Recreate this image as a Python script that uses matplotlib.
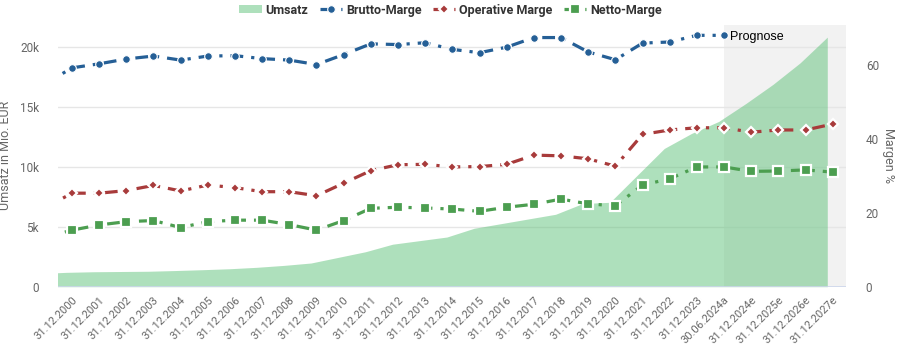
#!/usr/bin/env python
# Umsatz (area, left axis) with three margin lines (right axis)

import matplotlib as mpl
mpl.use('Agg')
import matplotlib.pyplot as plt
import matplotlib.transforms as mtransforms
import numpy as np

# first entry (31.12.1999) lies left of the visible range, only the line lead-in shows
categories = ['31.12.1999'] + ['31.12.%d' % y for y in range(2000, 2024)] + \
    ['30.06.2024a', '31.12.2024e', '31.12.2025e', '31.12.2026e', '31.12.2027e']

umsatz = [1100, 1200, 1250, 1270, 1290, 1350, 1420, 1500, 1620, 1780, 1980,
          2450, 2920, 3550, 3850, 4150, 4880, 5270, 5660, 6050, 6950,
          7050, 9300, 11550, 12800, 13800, 15300, 16900, 18700, 20850]

bruttoMarge = [54.8, 59.2, 60.3, 61.6, 62.4, 61.3, 62.4, 62.5, 61.7, 61.3, 60.1,
               62.8, 65.7, 65.5, 66.0, 64.2, 63.3, 64.8, 67.4, 67.4, 63.5,
               61.4, 65.9, 66.2, 68.0, 68.0, None, None, None, None]

operativeMarge = [21.3, 25.3, 25.3, 26.0, 27.4, 25.9, 27.5, 26.8, 25.7, 25.7, 24.6,
                  28.0, 31.4, 33.0, 33.1, 32.4, 32.5, 33.1, 35.6, 35.4, 34.6,
                  32.6, 41.2, 42.4, 43.0, 43.0, 41.8, 42.4, 42.4, 44.0]

nettoMarge = [13.3, 15.3, 16.7, 17.6, 17.9, 16.0, 17.6, 18.0, 18.0, 16.8, 15.3,
              17.9, 21.2, 21.5, 21.3, 21.0, 20.4, 21.5, 22.3, 23.7, 22.4,
              21.9, 27.5, 29.2, 32.4, 32.4, 31.2, 31.3, 31.6, 31.0]

prognoseStart = '30.06.2024a'

leftTicks = [0, 5000, 10000, 15000, 20000]
leftTickLabels = ['0', '5k', '10k', '15k', '20k']
rightTicks = [0, 20, 40, 60]

GRAY = '#666666'
plt.rcParams['font.family'] = ['Roboto', 'DejaVu Sans']


def toArray(values):
    return np.array([np.nan if v is None else v for v in values], dtype=float)


def plotChart(outputFile):
    fig = plt.figure(figsize=(9.01, 3.6), dpi=100)
    ax = fig.add_axes([0.0648, 0.2036, 0.8745, 0.727])
    x = np.arange(len(categories))
    xmin, xmax = 0.5, len(categories) - 0.5

    # forecast band + grid
    p0 = categories.index(prognoseStart)
    ax.axvspan(p0, xmax, color='#f2f2f2', zorder=0, lw=0)
    for t in leftTicks[1:]:
        ax.axhline(t, color='#e6e6e6', lw=1, zorder=1)
    ax.axhline(0, color='#ccd6eb', lw=1.2, zorder=3)

    # revenue area (drawn slightly left of the category centres, as in the source)
    ax.fill_between(x - 0.2, 0, umsatz, color='#5fc27a', alpha=0.5, lw=0, zorder=2)

    ax.set_xlim(xmin, xmax)
    ax.set_ylim(0, 21863)
    ax.set_yticks(leftTicks)
    ax.set_yticklabels(leftTickLabels)
    ax.set_xticks(x[1:])
    ax.set_xticklabels(categories[1:], rotation=45, ha='right', rotation_mode='anchor')
    ax.tick_params(axis='x', length=0, pad=6, labelsize=8, labelcolor=GRAY)
    ax.tick_params(axis='y', length=0, pad=14, labelsize=8.5, labelcolor=GRAY)
    ax.set_ylabel('Umsatz in Mio. EUR', color=GRAY, fontsize=9)
    ax.yaxis.set_label_coords(-0.059, 0.5)
    for s in ax.spines.values():
        s.set_visible(False)

    ax2 = ax.twinx()
    ax2.set_ylim(0, 70.8)
    ax2.set_yticks(rightTicks)
    ax2.tick_params(axis='y', length=0, pad=14, labelsize=8.5, labelcolor=GRAY)
    ax2.set_ylabel('Margen %', color=GRAY, fontsize=9, rotation=270, va='center')
    ax2.yaxis.set_label_coords(1.053, 0.5)
    for s in ax2.spines.values():
        s.set_visible(False)

    dash = (0, (4, 2.5, 1, 2.5))
    ax2.plot(x, toArray(bruttoMarge), color='#255f96', lw=2.3, ls=dash, marker='o', ms=5.5,
             mec='white', mew=0.8, label='Brutto-Marge', zorder=5)
    ax2.plot(x, toArray(operativeMarge), color='#a83b3b', lw=2.3, ls=dash, marker='D', ms=5.5,
             mec='white', mew=1.6, label='Operative Marge', zorder=5)
    ax2.plot(x, toArray(nettoMarge), color='#4c9e50', lw=2.3, ls=dash, marker='s', ms=6.5,
             mec='white', mew=1.6, label='Netto-Marge', zorder=5)
    ax2.set_xlim(xmin, xmax)

    trans = mtransforms.blended_transform_factory(ax2.transData, ax2.transAxes)
    ax2.annotate('Prognose', xy=(p0, 1), xycoords=trans, xytext=(4, -8.5),
                 textcoords='offset points', va='center', ha='left', fontsize=9,
                 color='black', family=['Liberation Sans', 'DejaVu Sans'])

    # legend
    handles = [plt.Rectangle((0, 0), 1, 1, color='#5fc27a', alpha=0.5, lw=0)]
    handles += ax2.get_lines()
    labels = ['Umsatz', 'Brutto-Marge', 'Operative Marge', 'Netto-Marge']
    leg = fig.legend(handles, labels, loc='center', bbox_to_anchor=(0.5, 0.972), ncol=4,
                     frameon=False, prop={'weight': 'bold', 'size': 9},
                     handlelength=1.8, handleheight=0.6, handletextpad=0.3,
                     columnspacing=0.9)
    for t in leg.get_texts():
        t.set_color('#333333')

    fig.savefig(outputFile, dpi=100)


def main():
    plotChart('out.png')


if __name__ == '__main__':
    main()
